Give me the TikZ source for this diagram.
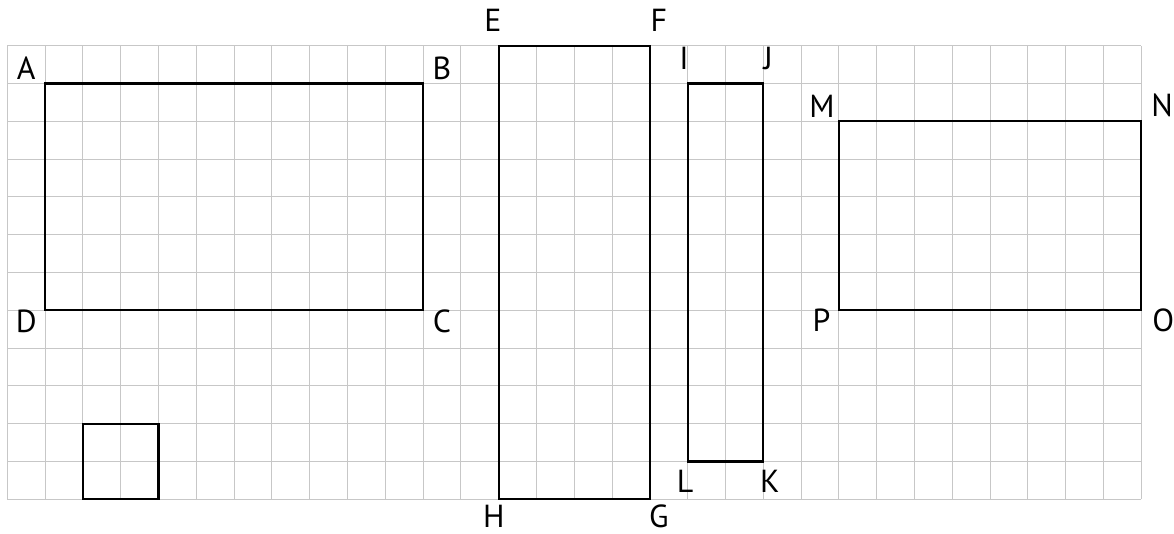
\documentclass[tikz,border=0pt]{standalone}
\usepackage{fontspec}
\setmainfont{PT Sans}
\usepackage{tikz}
\usetikzlibrary{positioning}
\tikzset{
 lbl/.style={font=\fontsize{24}{28}\selectfont, inner sep=0pt},
 fig/.style={line width=1.6pt, line join=miter},
 sheet/.style={draw=black!22, line width=0.75pt}
}

\begin{document}
\begin{tikzpicture}[x=1cm,y=1cm]
\useasboundingbox (-0.193,-0.892) rectangle (30.865,13.209);

\draw[sheet] (0,0) grid (30,12);

% corners
\path (1,11) coordinate (A);
\path (11,11) coordinate (B);
\path (11,5) coordinate (C);
\path (1,5) coordinate (D);
\path (13,12) coordinate (E);
\path (17,12) coordinate (F);
\path (17,0) coordinate (G);
\path (13,0) coordinate (H);
\path (18,11) coordinate (I);
\path (20,11) coordinate (J);
\path (20,1) coordinate (K);
\path (18,1) coordinate (L);
\path (22,10) coordinate (M);
\path (30,10) coordinate (N);
\path (30,5) coordinate (O);
\path (22,5) coordinate (P);
\path (2,0) coordinate (s1);
\path (4,0) coordinate (s2);
\path (4,2) coordinate (s3);
\path (2,2) coordinate (s4);

\draw[fig] (A) -- (B) -- (C) -- (D) -- cycle;
\draw[fig] (E) -- (F) -- (G) -- (H) -- cycle;
\draw[fig] (I) -- (J) -- (K) -- (L) -- cycle;
\draw[fig] (M) -- (N) -- (O) -- (P) -- cycle;
\draw[fig] (s1) -- (s2) -- (s3) -- (s4) -- cycle;

% labels
\path (A)+(-0.5,0.41) node[lbl,name=lA] {A};
\path (B)+(0.5,0.41) node[lbl,name=lB] {B};
\path (C)+(0.5,-0.3) node[lbl,name=lC] {C};
\path (D)+(-0.5,-0.3) node[lbl,name=lD] {D};
\path (E)+(-0.15,0.68) node[lbl,name=lE] {E};
\path (F)+(0.24,0.68) node[lbl,name=lF] {F};
\path (G)+(0.24,-0.44) node[lbl,name=lG] {G};
\path (H)+(-0.13,-0.44) node[lbl,name=lH] {H};
\path (I)+(-0.1,0.67) node[lbl,name=lI] {I};
\path (J)+(0.13,0.67) node[lbl,name=lJ] {J};
\path (K)+(0.17,-0.52) node[lbl,name=lK] {K};
\path (L)+(-0.07,-0.52) node[lbl,name=lL] {L};
\path (M)+(-0.45,0.39) node[lbl,name=lM] {M};
\path (N)+(0.55,0.42) node[lbl,name=lN] {N};
\path (O)+(0.58,-0.27) node[lbl,name=lO] {O};
\path (P)+(-0.46,-0.27) node[lbl,name=lP] {P};
\end{tikzpicture}
\end{document}
